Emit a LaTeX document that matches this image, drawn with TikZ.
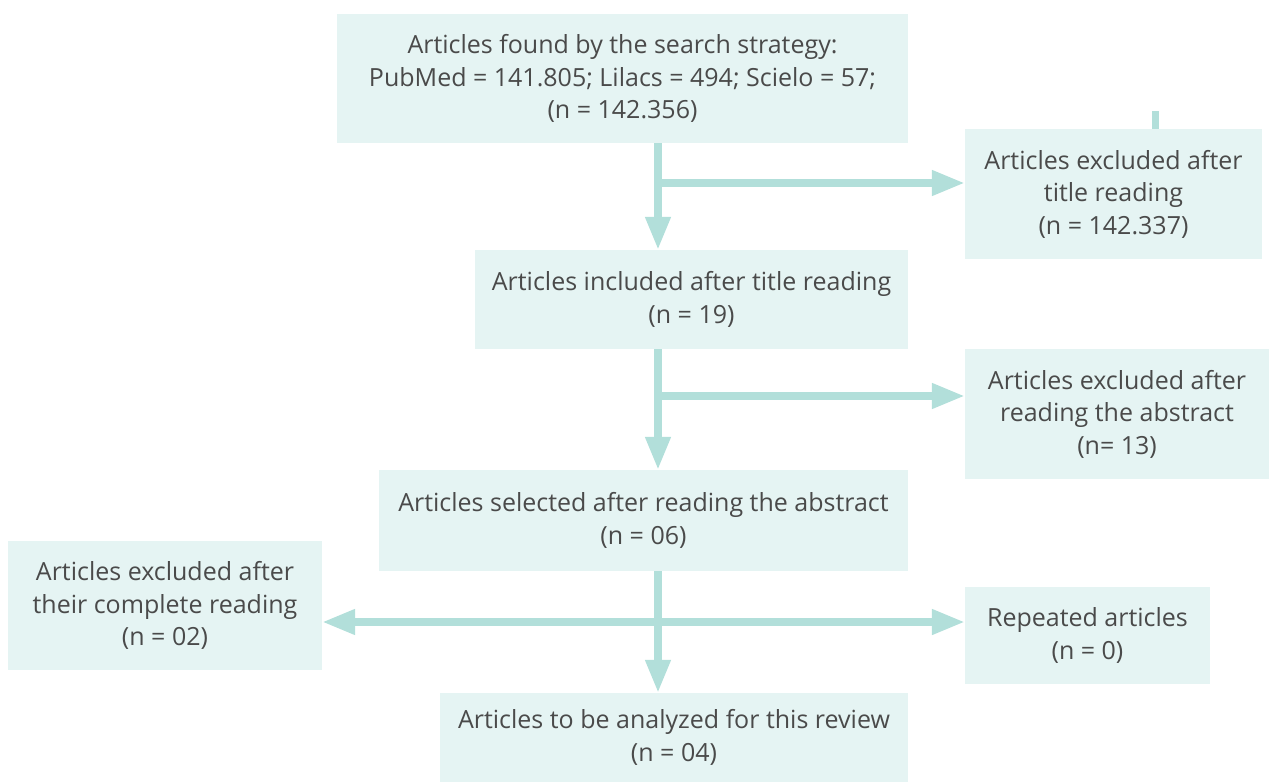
\documentclass[tikz,border=0pt]{standalone}
\usepackage{fontspec}
\setmainfont{Open Sans}
\usetikzlibrary{arrows.meta}
\definecolor{boxfill}{HTML}{E5F4F3}
\definecolor{arrowcol}{HTML}{B2DFDA}
\definecolor{txt}{HTML}{4A4A4A}
\begin{document}
\begin{tikzpicture}[x=1pt,y=-1pt,
  box/.style={fill=boxfill,draw=none,inner sep=0pt,align=center,text=txt,
    font=\fontsize{25}{32.5}\selectfont},
  conn/.style={draw=arrowcol,line width=7.5pt,-{Triangle[width=24pt,length=33pt]}},
  dconn/.style={draw=arrowcol,line width=7.5pt,{Triangle[width=24pt,length=33pt]}-{Triangle[width=24pt,length=33pt]}},
  stub/.style={draw=arrowcol,line width=7.5pt}]
\useasboundingbox (0,0) rectangle (1270,782);
\node[box,minimum width=571pt,minimum height=129pt] (found) at (622.5,78.5)
  {Articles found by the search strategy:\\PubMed = 141.805; Lilacs = 494; Scielo = 57;\\(n = 142.356)};
\node[box,minimum width=297pt,minimum height=130pt] (ex1) at (1113.5,194)
  {Articles excluded after\\title reading\\(n = 142.337)};
\node[box,minimum width=433pt,minimum height=99pt] (inc) at (691.5,299.5)
  {Articles included after title reading\\(n = 19)};
\node[box,minimum width=304pt,minimum height=130pt] (ex2) at (1117,414)
  {Articles excluded after\\reading the abstract\\(n= 13)};
\node[box,minimum width=529pt,minimum height=101pt] (sel) at (643.5,520.5)
  {Articles selected after reading the abstract\\(n = 06)};
\node[box,minimum width=314pt,minimum height=129pt] (ex3) at (165,605.5)
  {Articles excluded after\\their complete reading\\(n = 02)};
\node[box,minimum width=245pt,minimum height=97pt] (rep) at (1087.5,635.5)
  {Repeated articles\\(n = 0)};
\node[box,minimum width=468pt,minimum height=89pt] (ana) at (674,737.5)
  {Articles to be analyzed for this review\\(n = 04)};
\coordinate (stubtop) at (1155.5,111);
\coordinate (b1) at (658,183);
\coordinate (b2) at (658,396);
\coordinate (b3) at (658,622);
% connectors
\draw[conn] (found.south -| b1) -- (inc.north -| b1);
\draw[conn] ([xshift=-3.75pt]b1) -- (ex1.west |- b1);
\draw[conn] (inc.south -| b2) -- (sel.north -| b2);
\draw[conn] ([xshift=-3.75pt]b2) -- (ex2.west |- b2);
\draw[conn] (sel.south -| b3) -- (ana.north -| b3);
\draw[dconn] (ex3.east |- b3) -- (rep.west |- b3);
\draw[stub] (stubtop) -- (ex1.north -| stubtop);
\end{tikzpicture}
\end{document}
